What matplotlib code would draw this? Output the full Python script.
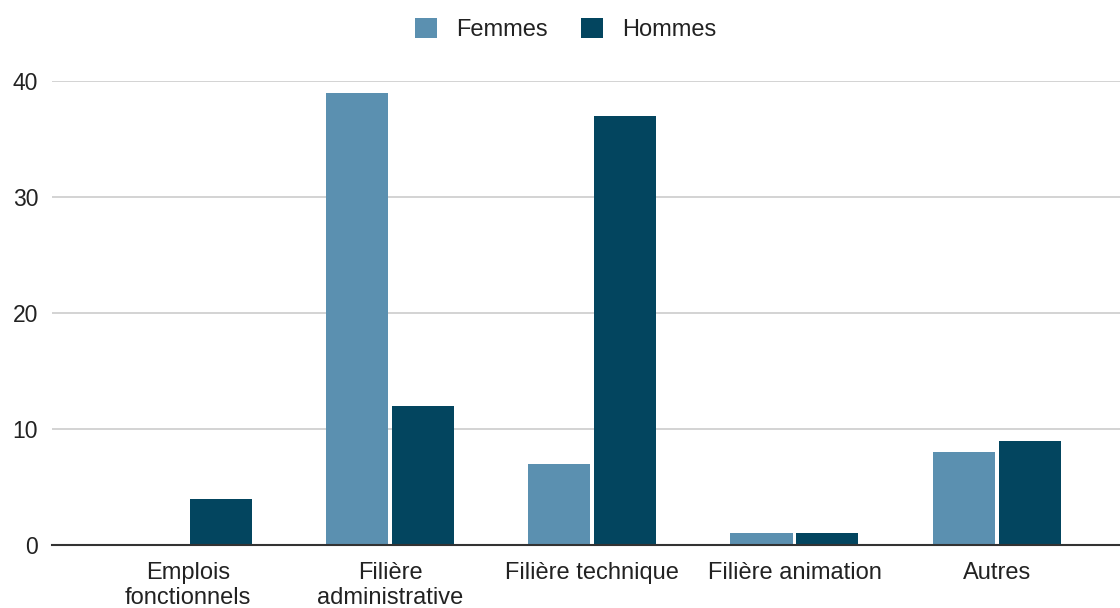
import matplotlib
matplotlib.use("Agg")
import matplotlib.pyplot as plt
import numpy as np

categories = ["Emplois\nfonctionnels", "Filière\nadministrative", "Filière technique", "Filière animation", "Autres"]
femmes = [0, 39, 7, 1, 8]
hommes = [4, 12, 37, 1, 9]
series_names = ["Femmes", "Hommes"]
colors = ["#5b90b0", "#03455f"]

plt.rcParams['font.family'] = ['Liberation Sans', 'DejaVu Sans']

fig = plt.figure(figsize=(11.2, 6.08), dpi=100)
ax = fig.add_axes([52/1120, 1 - 545/608, 1 - 52/1120, (545 - 81)/608])

x = np.arange(len(categories))
w = 0.307
off = 0.163
ax.bar(x - off, femmes, width=w, color=colors[0], label=series_names[0], zorder=3)
ax.bar(x + off, hommes, width=w, color=colors[1], label=series_names[1], zorder=3)

ax.set_xlim(-0.672, 4.61)
ax.set_ylim(0, 40)
ax.set_yticks([0, 10, 20, 30, 40])
ax.yaxis.grid(True, color="#cccccc", linewidth=1.2, zorder=0)
ax.set_axisbelow(True)
for s in ["top", "right", "left"]:
    ax.spines[s].set_visible(False)
ax.spines["bottom"].set_color("#333333")
ax.spines["bottom"].set_linewidth(1.5)
ax.spines["bottom"].set_zorder(4)
ax.set_xticks(x)
ax.set_xticklabels(categories, fontsize=17, color="#222222", linespacing=1.15)
ax.tick_params(axis="x", length=0, pad=12.5)
ax.tick_params(axis="y", length=0, pad=10, labelsize=16.5, labelcolor="#222222")
for lab in ax.get_yticklabels():
    lab.set_clip_on(False)

fig.legend(loc="upper center", bbox_to_anchor=(0.505, 1.006), ncol=2, frameon=False,
           fontsize=17, handlelength=0.93, handleheight=0.93, columnspacing=1.4,
           handletextpad=0.8, labelcolor="#222222")

fig.savefig("out.png", dpi=100)
